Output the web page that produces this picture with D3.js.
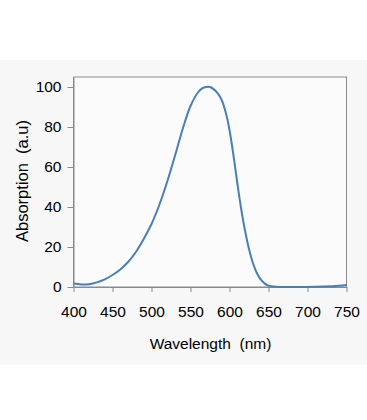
<!DOCTYPE html>
<html lang="en">
<head>
<meta charset="UTF-8">
<title>absorption</title>
<script src="https://cdn.jsdelivr.net/npm/d3@7"></script>
<style>
  body { margin: 0; background: #fff; }
  text { font-family: "Liberation Sans", Arial, sans-serif; fill: #000; }
</style>
</head>
<body>
<svg></svg>
<script>
  // spectrum
  var wavelength = [400, 410, 420, 430, 440, 450, 460, 470, 480, 490, 500, 510, 520, 530, 540,
    550, 560, 565, 570, 575, 580, 585, 590, 595, 600, 605, 610, 615, 620, 625, 630, 635,
    640, 645, 650, 660, 670, 680, 700, 720, 740, 750];
  var absorption = [1.7, 1.3, 1.4, 2.3, 3.8, 6, 8.8, 12.5, 17.5, 24, 31.5, 41, 52.5, 65.5, 79,
    90.5, 97.5, 99.3, 100, 100, 98.8, 96.8, 93.5, 87.5, 78.5, 66, 52, 39, 28, 19, 12, 7,
    3.8, 1.8, 0.7, 0.1, 0, 0, 0, 0.2, 0.6, 1];
  var xTicks = [400, 450, 500, 550, 600, 650, 700, 750];
  var yTicks = [0, 20, 40, 60, 80, 100];

  var W = 367, H = 420;
  var svg = d3.select('svg').attr('width', W).attr('height', H);

  // grey band behind the chart
  svg.append('rect')
    .attr('x', 0).attr('y', 60)
    .attr('width', W).attr('height', 305)
    .attr('fill', '#f7f7f7');

  var x = d3.scaleLinear().domain([400, 750]).range([73.5, 346.5]);
  var y = d3.scaleLinear().domain([0, 105]).range([287, 77]);

  var data = wavelength.map(function (w, i) { return {w: w, a: absorption[i]}; });

  // frame
  svg.append('rect')
    .attr('x', x(400)).attr('y', y(105))
    .attr('width', x(750) - x(400)).attr('height', y(0) - y(105))
    .attr('fill', '#fbfbfb')
    .attr('stroke', '#8a8a8a').attr('stroke-width', 1);

  var xAxis = svg.append('g')
    .attr('transform', 'translate(0,' + y(0) + ')')
    .call(d3.axisBottom(x).tickValues(xTicks).tickSize(5).tickPadding(14).tickSizeOuter(0));

  var yAxis = svg.append('g')
    .attr('transform', 'translate(' + x(400) + ',0)')
    .call(d3.axisLeft(y).tickValues(yTicks).tickSize(6).tickPadding(6).tickSizeOuter(0));

  [xAxis, yAxis].forEach(function (g) {
    g.select('.domain').attr('stroke', '#8a8a8a');
    g.selectAll('.tick line').attr('stroke', '#8a8a8a');
    g.selectAll('.tick text')
      .attr('fill', '#000')
      .style('font-size', '15.5px')
      .style('font-family', '"Liberation Sans", Arial, sans-serif');
  });

  var line = d3.line()
    .x(function (d) { return x(d.w); })
    .y(function (d) { return y(d.a); })
    .curve(d3.curveCatmullRom.alpha(0.5));

  svg.append('path')
    .datum(data)
    .attr('fill', 'none')
    .attr('stroke', '#4a7ebb')
    .attr('stroke-width', 2)
    .attr('stroke-linejoin', 'round')
    .attr('d', line);

  svg.append('text')
    .attr('x', 210.5)
    .attr('y', 349)
    .attr('text-anchor', 'middle')
    .style('font-size', '15.5px')
    .style('white-space', 'pre')
    .text('Wavelength  (nm)');

  svg.append('text')
    .attr('transform', 'translate(28,' + 181 + ') rotate(-90)')
    .attr('text-anchor', 'middle')
    .style('font-size', '16.5px')
    .style('white-space', 'pre')
    .text('Absorption  (a.u)');
</script>
</body>
</html>
